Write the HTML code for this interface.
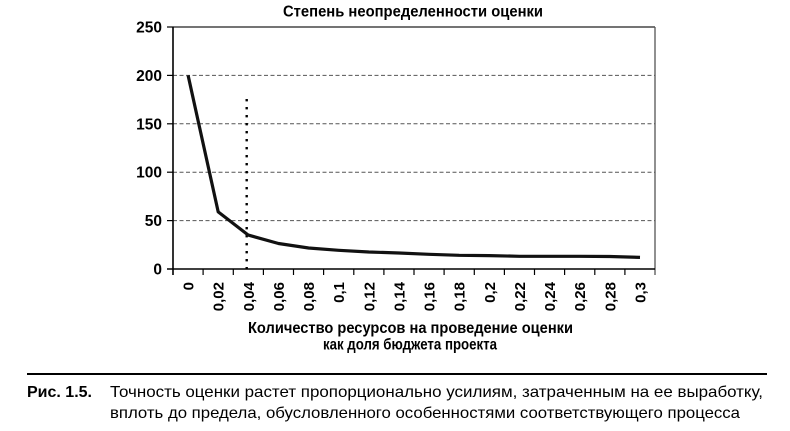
<!DOCTYPE html>
<html><head><meta charset="utf-8"><style>
html,body{margin:0;padding:0;background:#fff;}
svg{display:block;}
text{font-family:"Liberation Sans","DejaVu Sans",sans-serif;fill:#000;}
</style></head><body>
<svg width="790" height="431" viewBox="0 0 790 431" xmlns="http://www.w3.org/2000/svg">
<rect width="790" height="431" fill="#fff"/>
<!-- title -->
<text x="283" y="16.5" font-size="15.5" font-weight="bold" textLength="260" lengthAdjust="spacingAndGlyphs">Степень неопределенности оценки</text>
<!-- grid -->
<g stroke="#555" stroke-width="1" stroke-dasharray="4,2.5">
<line x1="173" y1="75.4" x2="655" y2="75.4"/>
<line x1="173" y1="123.8" x2="655" y2="123.8"/>
<line x1="173" y1="172.2" x2="655" y2="172.2"/>
<line x1="173" y1="220.6" x2="655" y2="220.6"/>
</g>
<line x1="173" y1="27" x2="655" y2="27" stroke="#222" stroke-width="1.3"/>
<line x1="655" y1="27" x2="655" y2="275" stroke="#555" stroke-width="1.3"/>
<!-- axes -->
<line x1="173" y1="26.5" x2="173" y2="275" stroke="#000" stroke-width="1.6"/>
<line x1="167" y1="269" x2="655" y2="269" stroke="#000" stroke-width="1.6"/>
<g stroke="#000" stroke-width="1.2">
<line x1="167" y1="27" x2="173" y2="27"/>
<line x1="167" y1="75.4" x2="173" y2="75.4"/>
<line x1="167" y1="123.8" x2="173" y2="123.8"/>
<line x1="167" y1="172.2" x2="173" y2="172.2"/>
<line x1="167" y1="220.6" x2="173" y2="220.6"/>
<line x1="203.1" y1="269" x2="203.1" y2="275"/>
<line x1="233.3" y1="269" x2="233.3" y2="275"/>
<line x1="263.4" y1="269" x2="263.4" y2="275"/>
<line x1="293.5" y1="269" x2="293.5" y2="275"/>
<line x1="323.6" y1="269" x2="323.6" y2="275"/>
<line x1="353.8" y1="269" x2="353.8" y2="275"/>
<line x1="383.9" y1="269" x2="383.9" y2="275"/>
<line x1="414" y1="269" x2="414" y2="275"/>
<line x1="444.1" y1="269" x2="444.1" y2="275"/>
<line x1="474.3" y1="269" x2="474.3" y2="275"/>
<line x1="504.4" y1="269" x2="504.4" y2="275"/>
<line x1="534.5" y1="269" x2="534.5" y2="275"/>
<line x1="564.6" y1="269" x2="564.6" y2="275"/>
<line x1="594.8" y1="269" x2="594.8" y2="275"/>
<line x1="624.9" y1="269" x2="624.9" y2="275"/>
</g>
<!-- y labels -->
<g font-size="15.5" font-weight="bold" text-anchor="end">
<text x="162" y="32.5">250</text>
<text x="162" y="80.9">200</text>
<text x="162" y="129.3">150</text>
<text x="162" y="177.7">100</text>
<text x="162" y="226.1">50</text>
<text x="162" y="274.5">0</text>
</g>
<!-- x labels rotated -->
<g font-size="15" font-weight="bold" text-anchor="end">
<text transform="translate(193.6,282) rotate(-90)">0</text>
<text transform="translate(223.7,282) rotate(-90)">0,02</text>
<text transform="translate(253.9,282) rotate(-90)">0,04</text>
<text transform="translate(284,282) rotate(-90)">0,06</text>
<text transform="translate(314.1,282) rotate(-90)">0,08</text>
<text transform="translate(344.2,282) rotate(-90)">0,1</text>
<text transform="translate(374.4,282) rotate(-90)">0,12</text>
<text transform="translate(404.5,282) rotate(-90)">0,14</text>
<text transform="translate(434.6,282) rotate(-90)">0,16</text>
<text transform="translate(464.7,282) rotate(-90)">0,18</text>
<text transform="translate(494.9,282) rotate(-90)">0,2</text>
<text transform="translate(525,282) rotate(-90)">0,22</text>
<text transform="translate(555.1,282) rotate(-90)">0,24</text>
<text transform="translate(585.2,282) rotate(-90)">0,26</text>
<text transform="translate(615.4,282) rotate(-90)">0,28</text>
<text transform="translate(645.5,282) rotate(-90)">0,3</text>
</g>
<!-- dotted vertical -->
<line x1="246.7" y1="99" x2="246.7" y2="269" stroke="#000" stroke-width="2.4" stroke-dasharray="2.4,5.6"/>
<!-- data line -->
<polyline fill="none" stroke="#111" stroke-width="3.2" stroke-linejoin="round"
points="188.1,75.4 218.2,211.9 248.3,235.1 278.5,243.5 308.6,248 338.7,250.3 368.8,252 399,253 429.1,254.3 459.2,255.3 489.3,255.6 519.5,256.3 549.6,256.3 579.7,256.3 609.8,256.5 640,257.4"/>
<!-- axis title -->
<g font-size="15.5" font-weight="bold">
<text x="248" y="333" textLength="325" lengthAdjust="spacingAndGlyphs">Количество ресурсов на проведение оценки</text>
<text x="323" y="349.5" textLength="174" lengthAdjust="spacingAndGlyphs">как доля бюджета проекта</text>
</g>
<!-- caption -->
<rect x="27" y="373" width="740" height="2" fill="#000"/>
<text x="27" y="397" font-size="16" font-weight="bold" textLength="65" lengthAdjust="spacingAndGlyphs">Рис. 1.5.</text>
<text x="110" y="397" font-size="16" textLength="653" lengthAdjust="spacingAndGlyphs">Точность оценки растет пропорционально усилиям, затраченным на ее выработку,</text>
<text x="110" y="418" font-size="16" textLength="630" lengthAdjust="spacingAndGlyphs">вплоть до предела, обусловленного особенностями соответствующего процесса</text>
</svg>
</body></html>
